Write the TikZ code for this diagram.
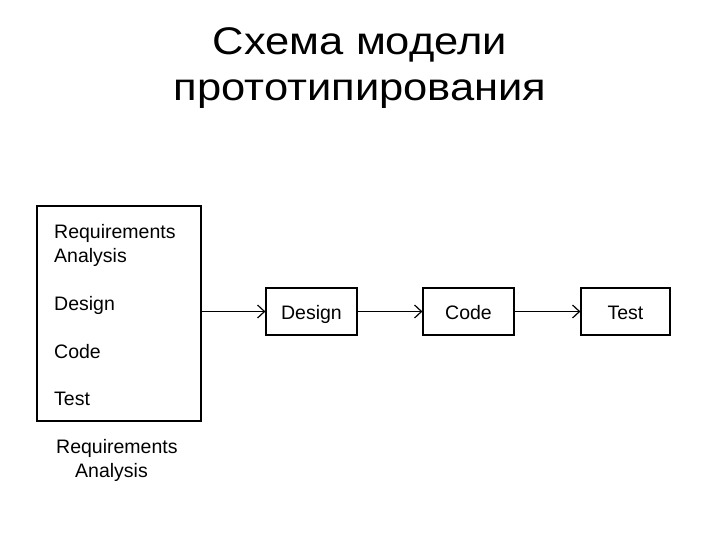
\documentclass[tikz,border=0pt]{standalone}
\usepackage{fontspec}
\setmainfont{Liberation Sans}
\usetikzlibrary{arrows.meta}
\tikzset{
  stagebox/.style={draw, line width=1.2pt, minimum width=91pt, minimum height=47pt,
    inner sep=0pt, text height=15pt, text depth=0pt, font=\fontsize{19.5}{22}\selectfont},
  stagetext/.style={anchor=base west, inner sep=0pt, font=\fontsize{19.5}{22}\selectfont},
  titletext/.style={anchor=base, inner sep=0pt, xscale=1.13, font=\fontsize{38.5}{44}\selectfont},
  flow/.style={line width=1.3pt, -{Straight Barb[length=7pt,width=13pt,line width=1.2pt]}}
}
\begin{document}
\begin{tikzpicture}[x=1pt,y=-1pt]
    \useasboundingbox[fill=white] (0,0) rectangle (720,540);
    % title
    \node[titletext] (title) at (360,54.5) {Схема модели};
    \node[titletext] (title2) at (360,101) {прототипирования};
    % prototype box
    \node[draw, line width=1.2pt, minimum width=164pt, minimum height=215pt, inner sep=0pt] (proto) at (119,313.5) {};
    \node[stagetext] (req) at (54,238) {Requirements};
    \node[stagetext] (ana) at (54,262) {Analysis};
    \node[stagetext] (des) at (54,310) {Design};
    \node[stagetext] (cod) at (54,358) {Code};
    \node[stagetext] (tst) at (54,405) {Test};
    \node[stagetext] (label) at (56,453) {Requirements};
    \node[stagetext] (label2) at (75,477) {Analysis};
    % stages
    \node[stagebox] (design) at (311.5,311.5) {Design};
    \node[stagebox] (code) at (468.5,311.5) {Code};
    \node[stagebox, minimum width=89pt] (test) at (625.5,311.5) {Test};
    \draw[flow] (proto.east |- design) -- (design);
    \draw[flow] (design) -- (code);
    \draw[flow] (code) -- (test);
\end{tikzpicture}
\end{document}
